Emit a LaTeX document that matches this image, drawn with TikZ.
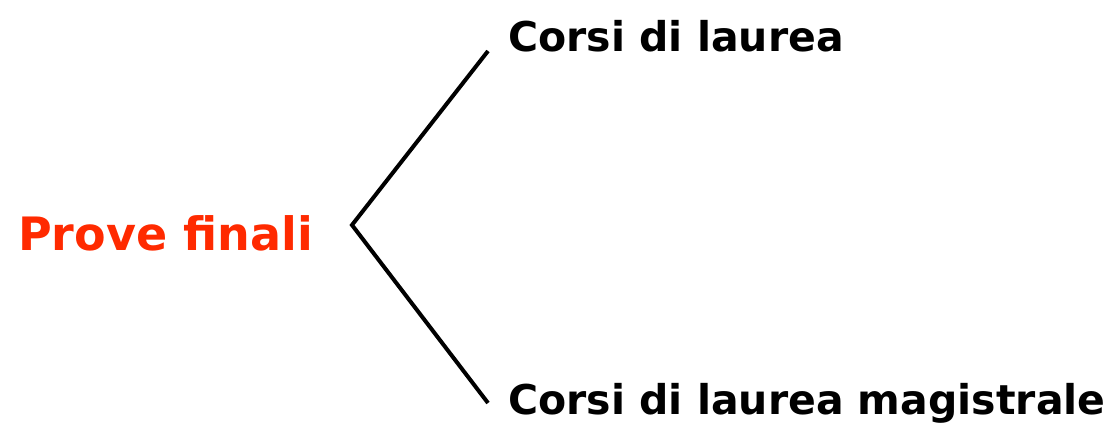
\documentclass[tikz,border=0pt]{standalone}
\usepackage{fontspec}
\setmainfont{DejaVu Sans}
\usetikzlibrary{positioning}
\definecolor{proverot}{RGB}{255,42,0}

\begin{document}
\begin{tikzpicture}[x=1pt, y=-1pt, every node/.style={inner sep=0pt, font=\bfseries}]
        \useasboundingbox (0,0) rectangle (1115,434);
        % labels
        \node[anchor=base west, text=proverot, font=\bfseries\fontsize{46}{50}\selectfont] (prove) at (18,250) {Prove finali};
        \node[anchor=base west, font=\bfseries\fontsize{41}{44}\selectfont] (laurea) at (508,51) {Corsi di laurea};
        \node[anchor=base west, font=\bfseries\fontsize{41}{44}\selectfont] (magistrale) at (508,414) {Corsi di laurea magistrale};
        % fork
        \coordinate (fork) at (352,225);
        \coordinate (top) at (488,51);
        \coordinate (bottom) at (488,403);
        \draw[line width=4pt] (top) -- (fork) -- (bottom);
    \end{tikzpicture}
\end{document}
